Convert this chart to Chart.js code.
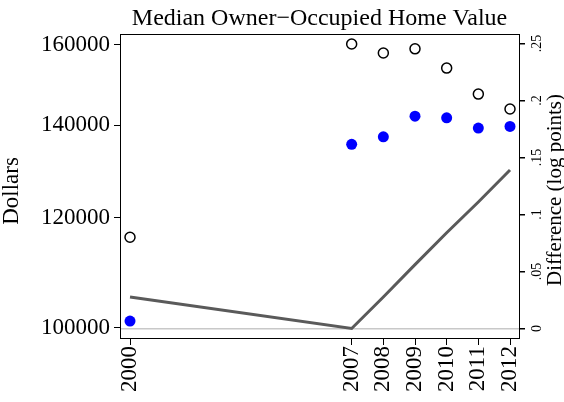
<!DOCTYPE html>
<html>
<head>
<meta charset="utf-8">
<script src="https://cdn.jsdelivr.net/npm/chart.js@4/dist/chart.umd.min.js"></script>
<style>
  html, body { margin: 0; padding: 0; background: #fff; }
  #myChart { display: block; }
</style>
</head>
<body>
<canvas id="myChart" width="564" height="402"></canvas>
<script>
// Dữ liệu
const years = [2000, 2007, 2008, 2009, 2010, 2011, 2012];
const hollowValues = [116200, 160200, 157800, 158900, 153900, 147400, 143800];
const blueValues = [101100, 135600, 137300, 142100, 141700, 139300, 139700];
const diffValues = [0.0276, 0, 0.0276, 0.056, 0.084, 0.111, 0.139];
const dollarTicks = [100000, 120000, 140000, 160000];
const diffTicks = [0, 0.05, 0.1, 0.15, 0.2, 0.25];
const diffTickLabels = ["0", ".05", ".1", ".15", ".2", ".25"];

const serif = "'Liberation Serif', 'Times New Roman', serif";

function toPoints(values) {
    return years.map((y, i) => ({ x: y, y: values[i] }));
}

// Vẽ tiêu đề, khung, tên trục và nhãn trục phải (xoay dọc)
const extras = {
    id: "extras",
    afterDraw(chart) {
        const ctx = chart.ctx;
        const area = chart.chartArea;
        const yR = chart.scales.yR;
        ctx.save();
        ctx.strokeStyle = "#000";
        ctx.lineWidth = 1;
        ctx.beginPath();
        ctx.moveTo(area.left, area.top + 0.5);
        ctx.lineTo(area.right, area.top + 0.5);
        ctx.stroke();

        ctx.fillStyle = "#000";
        ctx.font = "24px " + serif;
        ctx.textAlign = "center";
        ctx.textBaseline = "alphabetic";
        ctx.fillText("Median Owner\u2212Occupied Home Value", (area.left + area.right) / 2, 25);

        ctx.font = "14px " + serif;
        ctx.textBaseline = "middle";
        diffTicks.forEach((v, i) => {
            const y = yR.getPixelForValue(v);
            ctx.save();
            ctx.translate(537, y);
            ctx.rotate(-Math.PI / 2);
            ctx.fillText(diffTickLabels[i], 0, 0);
            ctx.restore();
        });

        ctx.font = "21px " + serif;
        ctx.save();
        ctx.translate(555, 190);
        ctx.rotate(-Math.PI / 2);
        ctx.fillText("Difference (log points)", 0, 0);
        ctx.restore();

        ctx.font = "23px " + serif;
        ctx.save();
        ctx.translate(12, 191);
        ctx.rotate(-Math.PI / 2);
        ctx.fillText("Dollars", 0, 0);
        ctx.restore();
        ctx.restore();
    }
};

new Chart(document.getElementById("myChart"), {
    type: "scatter",
    data: {
        datasets: [
            {
                data: toPoints(diffValues),
                yAxisID: "yR",
                showLine: true,
                borderColor: "#5a5a5a",
                borderWidth: 3,
                pointRadius: 0,
                tension: 0
            },
            {
                data: toPoints(hollowValues),
                yAxisID: "yL",
                pointRadius: 5,
                borderWidth: 1.5,
                borderColor: "#000",
                backgroundColor: "rgba(255,255,255,0)"
            },
            {
                data: toPoints(blueValues),
                yAxisID: "yL",
                pointRadius: 5.5,
                borderWidth: 0,
                backgroundColor: "#0000ff"
            }
        ]
    },
    options: {
        responsive: false,
        animation: false,
        devicePixelRatio: 1,
        layout: { padding: { top: 34, left: 0, right: 0, bottom: 0 }, autoPadding: false },
        plugins: { legend: { display: false }, tooltip: { enabled: false }, title: { display: false } },
        scales: {
            x: {
                type: "linear",
                position: "bottom",
                min: 1999.684,
                max: 2012.284,
                afterBuildTicks: s => { s.ticks = years.map(v => ({ value: v })); },
                afterFit: s => { s.height = 64; },
                grid: { drawOnChartArea: false, tickLength: 7, color: "#000", tickColor: "#000" },
                border: { color: "#000", width: 1 },
                ticks: {
                    autoSkip: false,
                    minRotation: 90,
                    maxRotation: 90,
                    padding: 1,
                    color: "#000",
                    font: { family: serif, size: 23 },
                    callback: v => String(v)
                }
            },
            yL: {
                type: "logarithmic",
                position: "left",
                min: 98304,
                max: 162868,
                afterBuildTicks: s => { s.ticks = dollarTicks.map(v => ({ value: v })); },
                afterFit: s => { s.width = 120; },
                grid: { drawOnChartArea: false, tickLength: 6, color: "#000", tickColor: "#000" },
                border: { color: "#000", width: 1 },
                ticks: {
                    padding: 4,
                    color: "#000",
                    font: { family: serif, size: 23 },
                    callback: v => String(v)
                }
            },
            yR: {
                type: "linear",
                position: "right",
                min: -0.00833,
                max: 0.25833,
                afterBuildTicks: s => { s.ticks = diffTicks.map(v => ({ value: v })); },
                afterFit: s => { s.width = 45; },
                grid: {
                    drawOnChartArea: true,
                    tickLength: 6,
                    tickColor: "#000",
                    color: c => (c.tick && c.tick.value === 0 ? "#c8c8c8" : "rgba(0,0,0,0)"),
                    lineWidth: 1.5
                },
                border: { color: "#000", width: 1 },
                ticks: { display: false }
            }
        }
    },
    plugins: [extras]
});
</script>
</body>
</html>
